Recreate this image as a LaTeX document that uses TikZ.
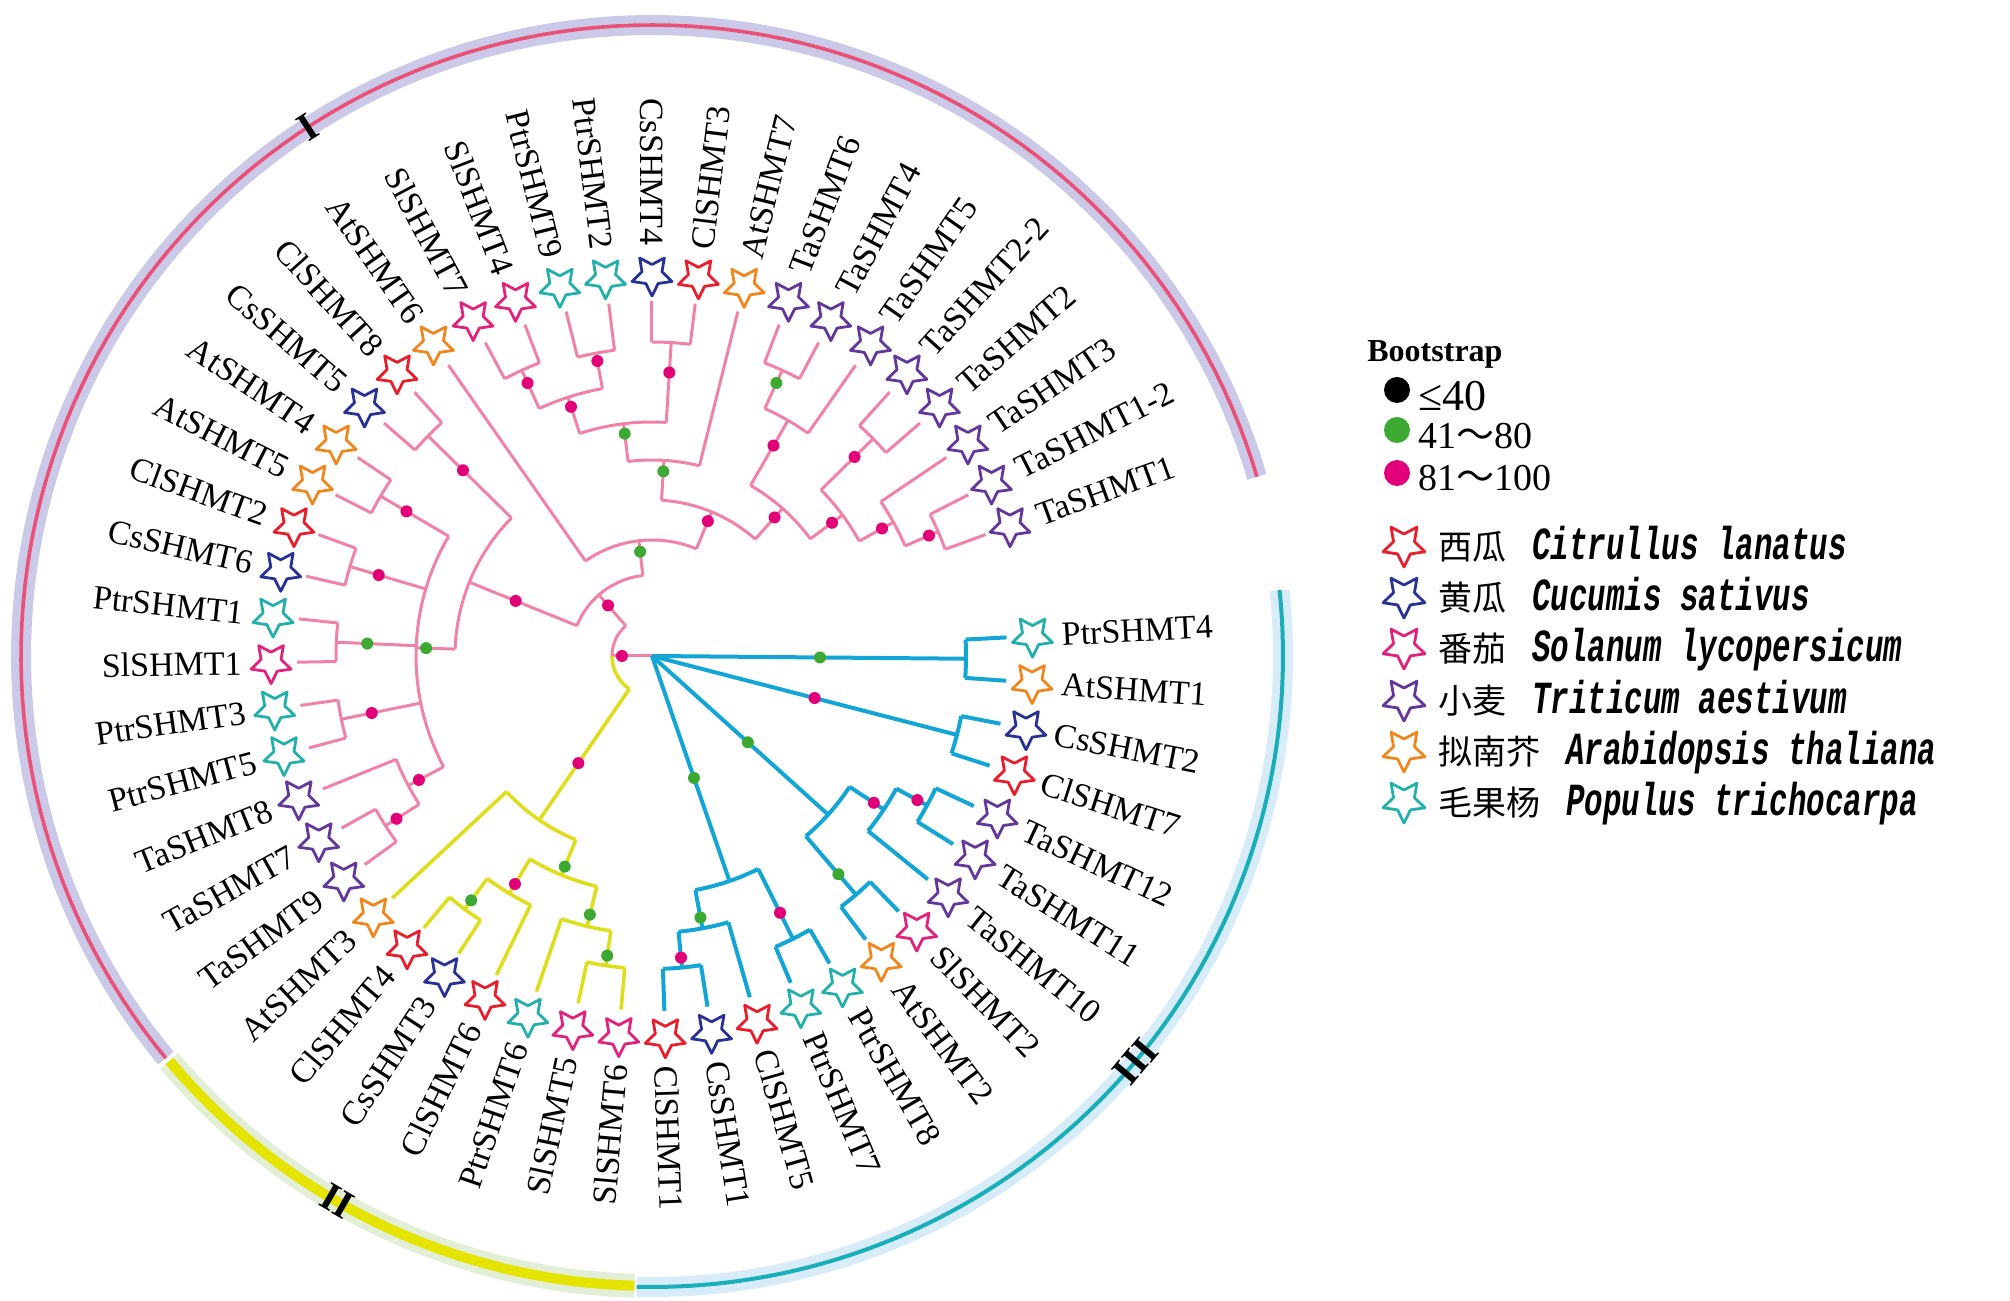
\documentclass[tikz,border=0pt]{standalone}
\usepackage{fontspec}
\setmainfont{Liberation Serif}
\newfontfamily\cjk{Noto Sans CJK SC}
\newfontfamily\latit{Liberation Mono}[FakeStretch=0.67]
\usetikzlibrary{shapes.geometric}
\definecolor{pinkl}{RGB}{240,130,165}
\definecolor{yell}{RGB}{222,222,30}
\definecolor{cyanl}{RGB}{20,165,215}
\definecolor{cCl}{RGB}{232,30,45}
\definecolor{cCs}{RGB}{40,50,150}
\definecolor{cSl}{RGB}{225,35,125}
\definecolor{cTa}{RGB}{100,55,155}
\definecolor{cAt}{RGB}{240,135,30}
\definecolor{cPtr}{RGB}{35,175,170}
\definecolor{dotm}{RGB}{225,0,120}
\definecolor{dotg}{RGB}{60,170,50}
\definecolor{bandI}{RGB}{202,202,232}
\definecolor{lineI}{RGB}{235,80,120}
\definecolor{bandII}{RGB}{226,238,214}
\definecolor{lineII}{RGB}{228,228,0}
\definecolor{bandIII}{RGB}{215,236,248}
\definecolor{lineIII}{RGB}{25,175,185}
\newcommand\clade[6]{%
  \draw[#1] plot[domain=#4:#5, samples=30, variable=\vv] (\vv:#3);
  \foreach \ch/\an in {#6}{%
    \coordinate (k-\ch) at (\an:#3);
    \draw[#1] (k-\ch) -- (\ch);
  }}
\tikzset{
  pk/.style={draw=pinkl, line width=1.5pt, line join=round},
  yl/.style={draw=yell, line width=1.8pt, line join=round},
  cy/.style={draw=cyanl, line width=2pt, line join=round},
  spstar/.style={star, star points=5, star point ratio=0.5, minimum size=10.5pt, inner sep=0pt, line width=1.4pt, line join=round},
  lab/.style={inner sep=0pt, font=\fontsize{17}{17}\selectfont},
  bdot/.style={circle, inner sep=0pt, minimum size=6pt},
  ldot/.style={circle, inner sep=0pt, minimum size=13pt},
  ringlab/.style={inner sep=0pt, font=\fontsize{20}{20}\selectfont\bfseries},
}
\begin{document}
\begin{tikzpicture}[x=0.5pt, y=0.5pt]
\useasboundingbox (-652,-645) rectangle (1358,656);
% ring
\draw[bandI, line width=10pt] plot[domain=16.5:219.6, samples=120, variable=\vv] (\vv:631);
\draw[lineI, line width=1.8pt] plot[domain=16.5:219.6, samples=120, variable=\vv] (\vv:631);
\draw[bandII, line width=12pt] plot[domain=220:268.4, samples=60, variable=\vv] (\vv:630);
\draw[lineII, line width=5pt] plot[domain=220:268.4, samples=60, variable=\vv] (\vv:630);
\draw[bandIII, line width=10pt] plot[domain=268.6:366, samples=100, variable=\vv] (\vv:631);
\draw[lineIII, line width=2pt] plot[domain=268.6:366, samples=100, variable=\vv] (\vv:631);
\node[ringlab, rotate=33] (rI) at (123:631) {I};
\node[ringlab, rotate=-30] (rII) at (240:629) {II};
\node[ringlab, rotate=50] (rIII) at (320:631) {III};
% internal nodes
\coordinate (nR) at (0,0);
\foreach \n/\a/\r in {nPY/180/40,nP0/131/81,nA/96.5/116,nA2/67.5/156,nA3/86.5/196,nA4/97/234,
  nCC/86.5/314,nA5/108/272,nPP/100.5/308,nSS/114.5/314,nA6/48.5/197,nA7/60/272,nT64/65.5/314,
  nA8/36.5/237,nT22/44.5/310,nA9/29/276,nT11/23.5/312,nB/158/197,nB1/135.5/314,nB2/178/236,
  nA45/149.5/315,nC26/163.5/315,nPS1/177.5/316,nPP35/191.5/317,nT/208/276,nT79/212.5/316,
  nY0/235.5/199,nY1/247.5/237,nY2/239/277,nC43/233.5/315,nY3/256.5/278,nS56/261.5/313,
  nP4A1/359.5/314,nC27/345.5/315,nC1/318/237,nC2/326.5/278,nT1211/331.5/313,nAS2/310.5/314,
  nC3/289/238,nPP78/296.5/316,nC4/280.5/277,nC11/275.5/313}
  {\coordinate (\n) at (\a:\r);}
% leaf tips
\foreach \n/\a in {TaSHMT1/20,TaSHMT1-2/27,TaSHMT3/34,TaSHMT2/41,TaSHMT2-2/48,TaSHMT5/55,TaSHMT4/62,
  TaSHMT6/69,AtSHMT7/76,ClSHMT3/83,CsSHMT4/90,PtrSHMT2/97,PtrSHMT9/104,SlSHMT4/111,SlSHMT7/118,
  AtSHMT6/125,ClSHMT8/132,CsSHMT5/139,AtSHMT4/146,AtSHMT5/153,ClSHMT2/160,CsSHMT6/167,PtrSHMT1/174,
  SlSHMT1/181,PtrSHMT3/188,PtrSHMT5/195,TaSHMT8/202,TaSHMT7/209,TaSHMT9/216,AtSHMT3/223,ClSHMT4/230,
  CsSHMT3/237,ClSHMT6/244,PtrSHMT6/251,SlSHMT5/258,SlSHMT6/265,ClSHMT1/272,CsSHMT1/279,ClSHMT5/286,
  PtrSHMT7/293,PtrSHMT8/300,AtSHMT2/307,SlSHMT2/314,TaSHMT10/321,TaSHMT11/328,TaSHMT12/335,
  ClSHMT7/342,CsSHMT2/349,AtSHMT1/356,PtrSHMT4/363}
  {\coordinate (\n) at (\a:355);}
% root edges
\draw[pk] (nR) -- (nPY);
\draw[cy] (nR) -- (nP4A1);
\draw[cy] (nR) -- (nC27);
\draw[cy] (nR) -- (nC1);
\draw[cy] (nR) -- (nC3);
% PY node
\draw[pk] plot[domain=131:180, samples=20, variable=\vv] (\vv:40);
\draw[yl] plot[domain=180:235.5, samples=20, variable=\vv] (\vv:40);
\coordinate (k-nP0) at (131:40);
\coordinate (k-nY0) at (235.5:40);
\draw[pk] (k-nP0) -- (nP0);
\draw[yl] (k-nY0) -- (nY0);
% clade I
\clade{pk}{nP0}{81}{96.5}{158}{nA/96.5,nB/158}
\clade{pk}{nA}{116}{67.5}{125}{nA2/67.5,AtSHMT6/125}
\clade{pk}{nA2}{156}{48.5}{86.5}{nA3/86.5,nA6/48.5}
\clade{pk}{nA3}{196}{76}{97}{AtSHMT7/76,nA4/97}
\clade{pk}{nA4}{234}{86.5}{108}{nCC/86.5,nA5/108}
\clade{pk}{nCC}{314}{83}{90}{ClSHMT3/83,CsSHMT4/90}
\clade{pk}{nA5}{272}{100.5}{114.5}{nPP/100.5,nSS/114.5}
\clade{pk}{nPP}{308}{97}{104}{PtrSHMT2/97,PtrSHMT9/104}
\clade{pk}{nSS}{314}{111}{118}{SlSHMT4/111,SlSHMT7/118}
\clade{pk}{nA6}{197}{36.5}{60}{nA7/60,nA8/36.5}
\clade{pk}{nA7}{272}{55}{65.5}{nT64/65.5,TaSHMT5/55}
\clade{pk}{nT64}{314}{62}{69}{TaSHMT4/62,TaSHMT6/69}
\clade{pk}{nA8}{237}{29}{44.5}{nT22/44.5,nA9/29}
\clade{pk}{nT22}{310}{41}{48}{TaSHMT2/41,TaSHMT2-2/48}
\clade{pk}{nA9}{276}{23.5}{34}{TaSHMT3/34,nT11/23.5}
\clade{pk}{nT11}{312}{20}{27}{TaSHMT1/20,TaSHMT1-2/27}
\clade{pk}{nB}{197}{135.5}{178}{nB1/135.5,nB2/178}
\clade{pk}{nB1}{314}{132}{139}{ClSHMT8/132,CsSHMT5/139}
\clade{pk}{nB2}{236}{149.5}{208}{nA45/149.5,nC26/163.5,nPS1/177.5,nPP35/191.5,nT/208}
\clade{pk}{nA45}{315}{146}{153}{AtSHMT4/146,AtSHMT5/153}
\clade{pk}{nC26}{315}{160}{167}{ClSHMT2/160,CsSHMT6/167}
\clade{pk}{nPS1}{316}{174}{181}{PtrSHMT1/174,SlSHMT1/181}
\clade{pk}{nPP35}{317}{188}{195}{PtrSHMT3/188,PtrSHMT5/195}
\clade{pk}{nT}{276}{202}{212.5}{TaSHMT8/202,nT79/212.5}
\clade{pk}{nT79}{316}{209}{216}{TaSHMT7/209,TaSHMT9/216}
% clade II
\clade{yl}{nY0}{199}{223}{247.5}{AtSHMT3/223,nY1/247.5}
\clade{yl}{nY1}{237}{239}{256.5}{nY2/239,nY3/256.5}
\clade{yl}{nY2}{277}{233.5}{244}{nC43/233.5,ClSHMT6/244}
\clade{yl}{nC43}{315}{230}{237}{ClSHMT4/230,CsSHMT3/237}
\clade{yl}{nY3}{278}{251}{261.5}{PtrSHMT6/251,nS56/261.5}
\clade{yl}{nS56}{313}{258}{265}{SlSHMT5/258,SlSHMT6/265}
% clade III
\clade{cy}{nP4A1}{314}{356}{363}{AtSHMT1/356,PtrSHMT4/363}
\clade{cy}{nC27}{315}{342}{349}{ClSHMT7/342,CsSHMT2/349}
\clade{cy}{nC1}{237}{310.5}{326.5}{nAS2/310.5,nC2/326.5}
\clade{cy}{nC2}{278}{321}{331.5}{TaSHMT10/321,nT1211/331.5}
\clade{cy}{nT1211}{313}{328}{335}{TaSHMT11/328,TaSHMT12/335}
\clade{cy}{nAS2}{314}{307}{314}{AtSHMT2/307,SlSHMT2/314}
\clade{cy}{nC3}{238}{280.5}{296.5}{nC4/280.5,nPP78/296.5}
\clade{cy}{nPP78}{316}{293}{300}{PtrSHMT7/293,PtrSHMT8/300}
\clade{cy}{nC4}{277}{275.5}{286}{nC11/275.5,ClSHMT5/286}
\clade{cy}{nC11}{313}{272}{279}{ClSHMT1/272,CsSHMT1/279}
% bootstrap dots
\foreach \a/\r/\c [count=\i] in {114.5/300/dotm,100.5/300/dotm,108/262/dotm,97/224/dotg,86.5/284/dotm,
  86.5/185/dotg,67.5/146/dotm,96.5/105/dotg,131/67/dotm,158/147/dotm,48.5/185/dotm,60/243/dotm,
  65.5/300/dotg,36.5/224/dotm,44.5/284/dotm,29/263/dotm,23.5/302/dotm,135.5/265/dotm,149.5/285/dotm,
  163.5/285/dotm,177.5/285/dotg,178/226/dotg,191.5/286/dotm,208/264/dotm,212.5/303/dotm,180/30/dotm,
  235.5/130/dotm,247.5/228/dotg,239/266/dotm,233.5/304/dotg,256.5/266/dotg,261.5/303/dotg,
  359.5/168/dotg,345.5/168/dotm,318/129/dotg,289/129/dotg,326.5/266/dotm,331.5/302/dotm,
  310.5/287/dotg,296.5/287/dotm,280.5/266/dotg,275.5/303/dotm}
  {\node[bdot, fill=\c] (d\i) at (\a:\r) {};}
% stars and labels
\foreach \n/\a/\c in {TaSHMT1/20/cTa,TaSHMT1-2/27/cTa,TaSHMT3/34/cTa,TaSHMT2/41/cTa,TaSHMT2-2/48/cTa,
  TaSHMT5/55/cTa,TaSHMT4/62/cTa,TaSHMT6/69/cTa,AtSHMT7/76/cAt,ClSHMT3/83/cCl,CsSHMT4/90/cCs,
  PtrSHMT2/97/cPtr,PtrSHMT9/104/cPtr,SlSHMT4/111/cSl,SlSHMT7/118/cSl,AtSHMT6/125/cAt,ClSHMT8/132/cCl,
  CsSHMT5/139/cCs,AtSHMT4/146/cAt,AtSHMT5/153/cAt,ClSHMT2/160/cCl,CsSHMT6/167/cCs,PtrSHMT1/174/cPtr,
  SlSHMT1/181/cSl,PtrSHMT3/188/cPtr,PtrSHMT5/195/cPtr,TaSHMT8/202/cTa,TaSHMT7/209/cTa,TaSHMT9/216/cTa,
  AtSHMT3/223/cAt,ClSHMT4/230/cCl,CsSHMT3/237/cCs,ClSHMT6/244/cCl,PtrSHMT6/251/cPtr,SlSHMT5/258/cSl,
  SlSHMT6/265/cSl,ClSHMT1/272/cCl,CsSHMT1/279/cCs,ClSHMT5/286/cCl,PtrSHMT7/293/cPtr,PtrSHMT8/300/cPtr,
  AtSHMT2/307/cAt,SlSHMT2/314/cSl,TaSHMT10/321/cTa,TaSHMT11/328/cTa,TaSHMT12/335/cTa,ClSHMT7/342/cCl,
  CsSHMT2/349/cCs,AtSHMT1/356/cAt,PtrSHMT4/363/cPtr}
{%
  \node[spstar, draw=\c] (s-\n) at (\a:381) {};
  \pgfmathtruncatemacro\flip{(\a>=90)&&(\a<270)}
  \ifnum\flip=1
    \pgfmathsetmacro\rr{\a-180}
    \node[lab, anchor=east, rotate=\rr] (l-\n) at (\a:410) {\n};
  \else
    \node[lab, anchor=west, rotate=\a] (l-\n) at (\a:410) {\n};
  \fi
}
% legend
\node[anchor=base west, inner sep=0pt, font=\fontsize{16}{16}\selectfont\bfseries] (bt) at (715,294) {Bootstrap};
\node[ldot, fill=black] (lb) at (745,266) {};
\node[anchor=base west, inner sep=0pt, font=\fontsize{22}{22}\selectfont] (lbt) at (766,245) {≤40};
\node[ldot, fill=dotg] (lg) at (745,226) {};
\node[anchor=base west, inner sep=0pt, font=\fontsize{19}{19}\selectfont] (lgt) at (766,207) {41{\cjk ～}80};
\node[ldot, fill=dotm] (lm) at (745,183) {};
\node[anchor=base west, inner sep=0pt, font=\fontsize{19}{19}\selectfont] (lmt) at (766,165) {81{\cjk ～}100};
\foreach \y/\c/\zh/\la [count=\i] in {111/cCl/西瓜/Citrullus lanatus,60/cCs/黄瓜/Cucumis sativus,
  9/cSl/番茄/Solanum lycopersicum,-43/cTa/小麦/Triticum aestivum,-94/cAt/拟南芥/Arabidopsis thaliana,
  -145/cPtr/毛果杨/Populus trichocarpa}
{%
  \node[spstar, draw=\c, minimum size=11pt] (ls\i) at (752,\y) {};
  \node[anchor=base west, inner sep=0pt] (lt\i) at (786,\y-15)
    {{\cjk\fontsize{17}{17}\selectfont \zh}\hspace{13pt}{\latit\bfseries\itshape\fontsize{23}{23}\selectfont \la}};
}
\end{tikzpicture}
\end{document}
